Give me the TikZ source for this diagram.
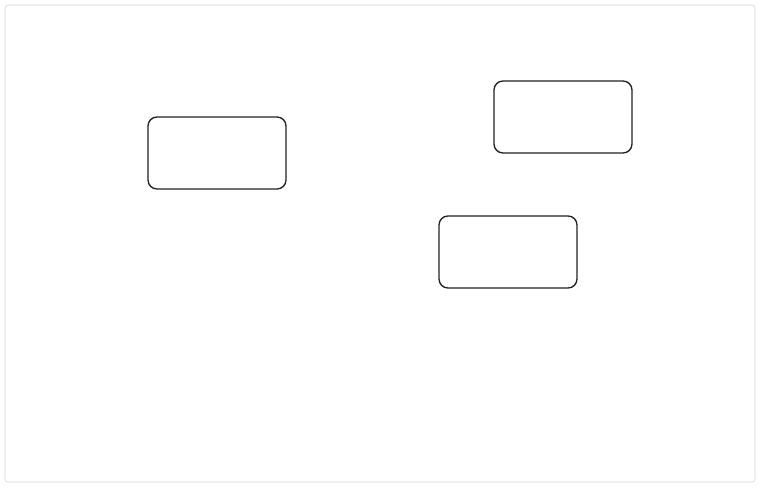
\documentclass[tikz,border=0pt]{standalone}
\usepackage{tikz}
\usepackage{xcolor}
\definecolor{framegray}{HTML}{E6E6E6}
\definecolor{boxline}{HTML}{222222}

\tikzset{
	blockbox/.style={draw=boxline,line width=1.35pt,rounded corners=9pt,minimum width=138pt,minimum height=72pt,inner sep=0pt}
}

\begin{document}
\begin{tikzpicture}[x=1pt,y=-1pt]
			\useasboundingbox (0,0) rectangle (770,497);
			\draw[framegray,line width=1.2pt,rounded corners=3pt] (5,5) rectangle (755,482);
			\coordinate[] (1) at (217,153);
			\coordinate[] (2) at (563,117);
			\coordinate[] (3) at (508,252);
			\foreach \Nombre in {1,2,3}
			\node[blockbox] (box\Nombre) at (\Nombre) {};
		\end{tikzpicture}
\end{document}
